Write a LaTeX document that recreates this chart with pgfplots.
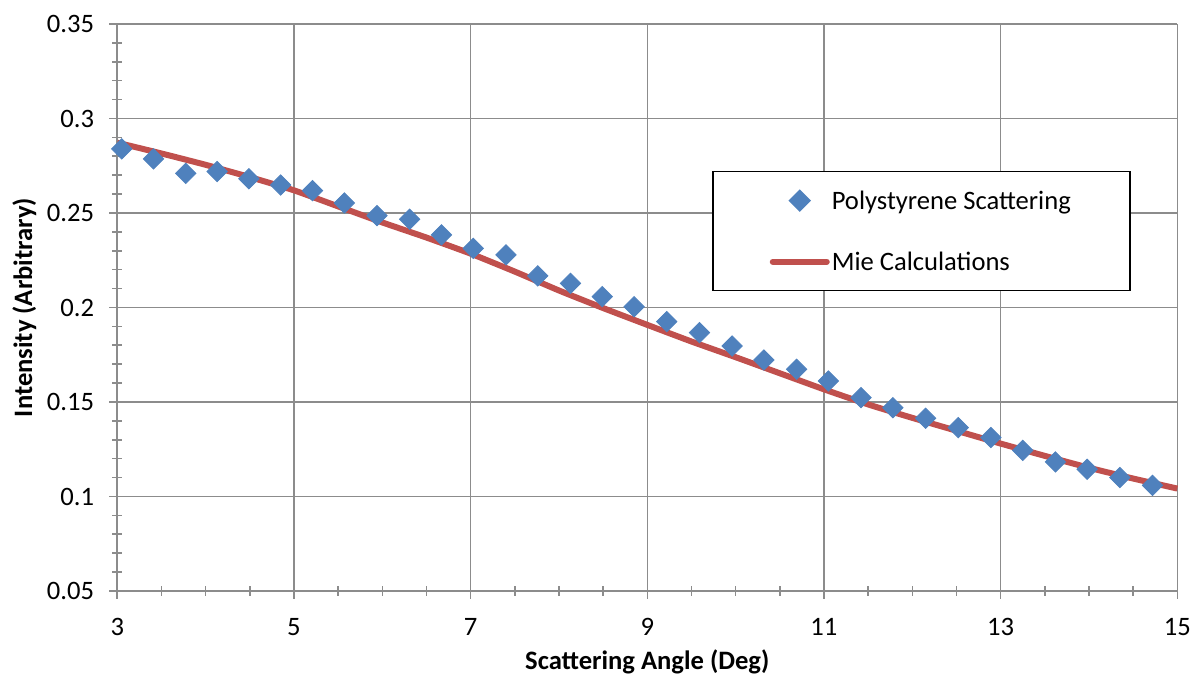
\documentclass[border=0pt]{standalone}
\usepackage{pgfplots}
\pgfplotsset{compat=1.18}
\usepackage{fontspec}
\setmainfont{Carlito}
\definecolor{ptblue}{HTML}{4F81BD}
\definecolor{mieRed}{HTML}{C0504D}
\definecolor{gridgray}{HTML}{8C8C8C}
\begin{document}
\fontsize{13.3}{16}\selectfont
\begin{tikzpicture}
\begin{axis}[
  scale only axis,
  width=530pt, height=283.5pt,
  xmin=3, xmax=15, ymin=0.05, ymax=0.35,
  xtick={3,5,...,15},
  ytick={0.05,0.1,...,0.36},
  minor x tick num=3,
  minor y tick num=4,
  grid=major,
  major grid style={gridgray, line width=0.7pt},
  axis lines*=left,
  axis line style={gridgray, line width=0.9pt},
  tick style={gridgray, line width=0.8pt},
  tick align=center,
  major tick length=8pt,
  minor tick length=5pt,
  scaled y ticks=false,
  /pgf/number format/assume math mode=true,
  yticklabel style={/pgf/number format/fixed, /pgf/number format/precision=2, xshift=-3pt},
  xticklabel style={yshift=-5pt},
  ticklabel style={font=\fontsize{13.3}{16}\selectfont},
  xlabel={\textbf{Scattering Angle (Deg)}},
  ylabel={\textbf{Intensity (Arbitrary)}},
  every axis x label/.style={at={(axis description cs:0.5,-0.1252)}, anchor=center},
  every axis y label/.style={at={(axis description cs:-0.0877,0.5)}, rotate=90, anchor=center},
  legend style={at={(rel axis cs:0.561,0.741)}, anchor=north west, draw=black, line width=0.8pt,
    inner xsep=28.5pt, inner ysep=7.5pt, row sep=16.5pt,
    font=\fontsize{13.3}{16}\selectfont,
    nodes={inner sep=1pt, text height=10.5pt, text depth=1.5pt},
    /tikz/every even column/.append style={column sep=0pt}},
  legend cell align=left,
  clip=false,
]
\addplot[only marks, mark=square*, mark size=3.6pt, color=ptblue, mark options={rotate=45, draw=ptblue, fill=ptblue},
  legend image code/.code={\draw[mark=square*, mark size=3.6pt, mark options={rotate=45}] plot coordinates {(13.5pt,0pt)};}]
coordinates {
(3.05,0.2839) (3.41,0.2786) (3.775,0.2710) (4.13,0.2719) (4.49,0.2681)
(4.85,0.2648) (5.21,0.2618) (5.57,0.2553) (5.94,0.2486) (6.31,0.2467)
(6.67,0.2384) (7.03,0.2313) (7.40,0.2278) (7.76,0.2167) (8.13,0.2128)
(8.49,0.2057) (8.85,0.2004) (9.22,0.1925) (9.59,0.1867) (9.96,0.1796)
(10.32,0.1722) (10.69,0.1673) (11.05,0.1611) (11.42,0.1523) (11.78,0.1470)
(12.15,0.1414) (12.52,0.1365) (12.89,0.1312) (13.25,0.1244) (13.62,0.1183)
(13.98,0.1144) (14.35,0.1100) (14.72,0.1059)
};
\addlegendentry{Polystyrene Scattering}
\addplot[mieRed, line width=3pt, no marks, smooth, tension=0.3,
  legend image code/.code={\draw[mieRed, line width=3pt, line cap=round] (0pt,0pt) -- (27pt,0pt);}]
coordinates {
(3,0.2872) (3.5,0.2815) (4,0.2755) (4.5,0.2690) (5,0.2620) (5.5,0.2535)
(6,0.2450) (6.5,0.2370) (7,0.2285) (7.5,0.2190) (8,0.2090) (8.5,0.1997)
(9,0.1908) (9.5,0.1820) (10,0.1737) (10.5,0.1652) (11,0.1567) (11.5,0.1487)
(12,0.1416) (12.5,0.1348) (13,0.1280) (13.5,0.1215) (14,0.1152) (14.5,0.1095)
(15,0.1042)
};
\addlegendentry{Mie Calculations}
\end{axis}
\pgfresetboundingbox
\path[use as bounding box] (current axis.south west) ++(-58.65pt,-44pt) rectangle ++(596.5pt,339.5pt);
\end{tikzpicture}
\end{document}
